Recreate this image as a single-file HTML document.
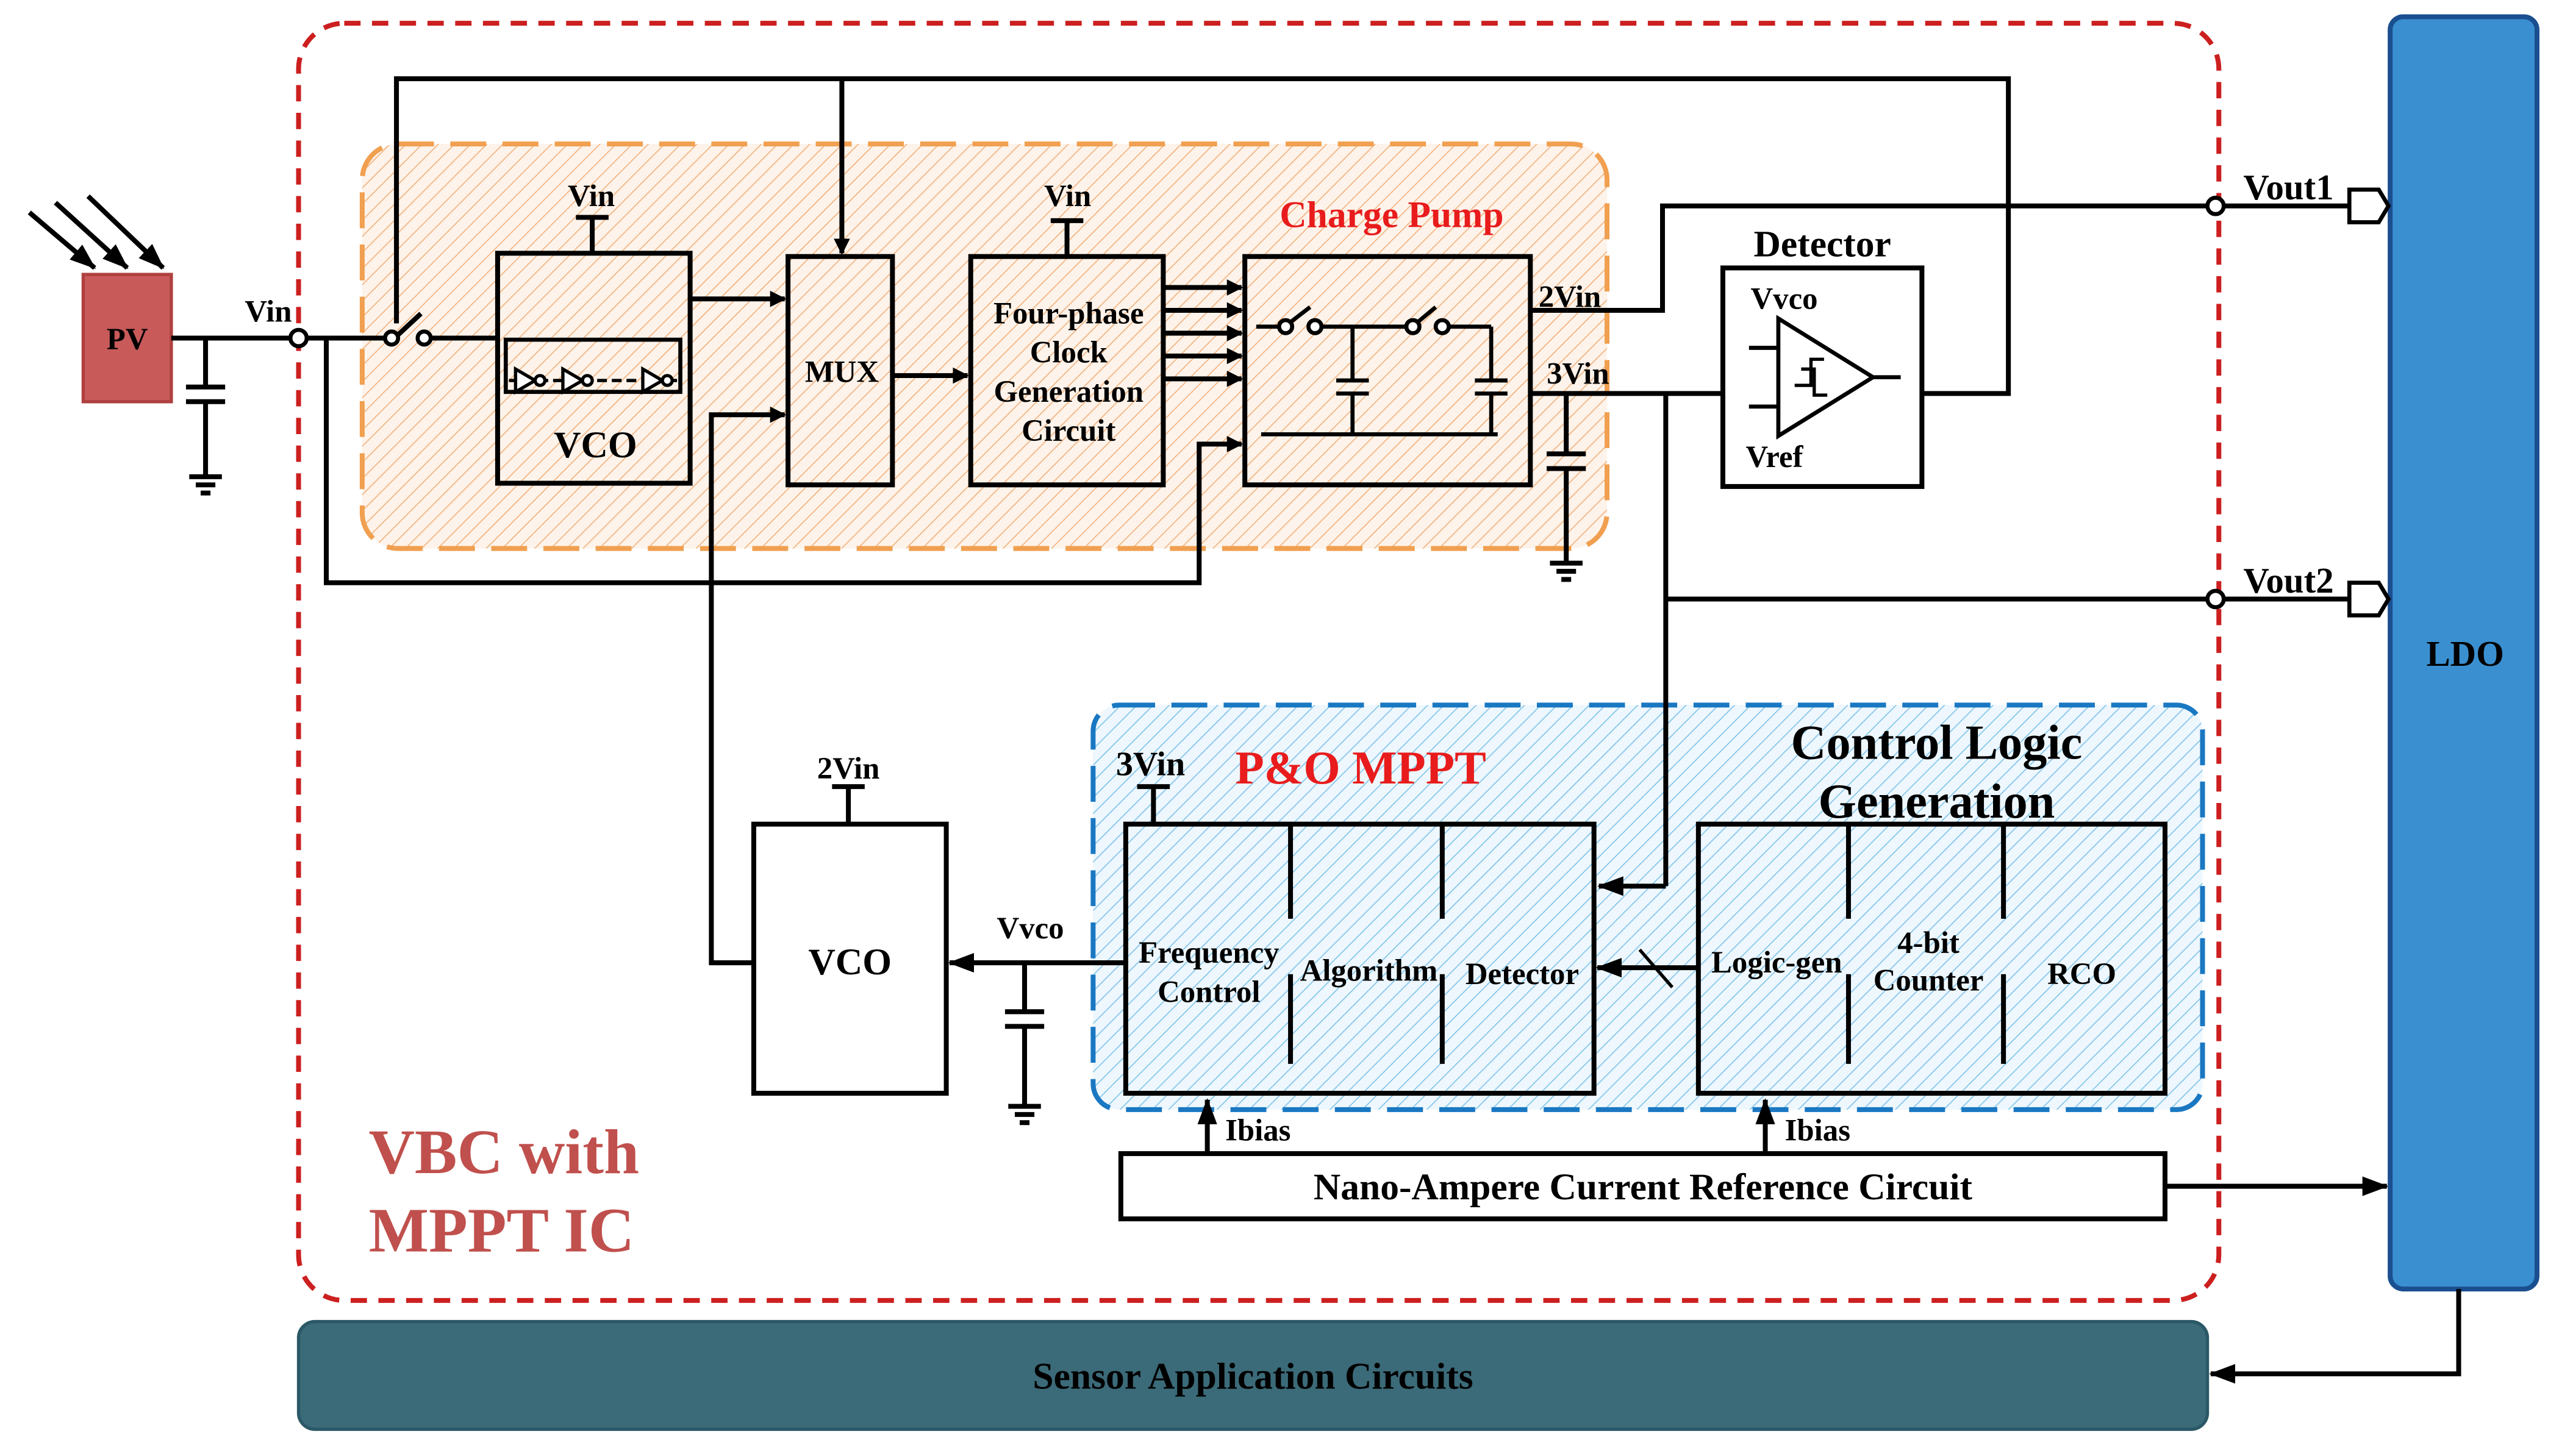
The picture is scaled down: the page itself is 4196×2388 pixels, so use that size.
<!DOCTYPE html>
<html><head><meta charset="utf-8"><style>
html,body{margin:0;padding:0;background:#fff;}
svg{display:block;}
text{font-family:"Liberation Serif",serif;font-weight:bold;}
</style></head><body>
<svg width="4196" height="2388" viewBox="0 0 1563 889" xmlns="http://www.w3.org/2000/svg">
<defs>
<pattern id="ho" patternUnits="userSpaceOnUse" width="7" height="7" patternTransform="rotate(45)"><rect width="7" height="7" fill="#fdf3ea"/><line x1="0" y1="0" x2="0" y2="7" stroke="#f2b07a" stroke-width="1.2"/></pattern>
<pattern id="hb" patternUnits="userSpaceOnUse" width="7" height="7" patternTransform="rotate(45)"><rect width="7" height="7" fill="#eef7fd"/><line x1="0" y1="0" x2="0" y2="7" stroke="#7cc3ea" stroke-width="1.2"/></pattern>
<marker id="a" markerWidth="10" markerHeight="10" refX="9" refY="5" orient="auto" markerUnits="userSpaceOnUse"><path d="M0,0 L10,5 L0,10 z" fill="#000"/></marker>
<marker id="a2" markerWidth="16" markerHeight="12" refX="15" refY="6" orient="auto" markerUnits="userSpaceOnUse"><path d="M0,0 L16,6 L0,12 z" fill="#000"/></marker>
</defs>
<rect x="0" y="0" width="1563" height="889" fill="#fff"/>
<g transform="scale(0.9965)">
<rect x="222" y="88" width="763" height="248" rx="22" fill="url(#ho)" stroke="#f0a050" stroke-width="3" stroke-dasharray="22,10"/>
<rect x="670" y="432" width="680" height="248" rx="16" fill="url(#hb)" stroke="#1a78c2" stroke-width="3" stroke-dasharray="22,10"/>
<rect x="183" y="14" width="1177" height="783" rx="28" fill="none" stroke="#cc1f1f" stroke-width="3" stroke-dasharray="10,7"/>
<rect x="1465" y="10" width="90" height="780" rx="8" fill="#3a8fd0" stroke="#1a4f90" stroke-width="3"/>
<text x="1511" y="408" font-size="22" text-anchor="middle">LDO</text>
<rect x="183" y="810" width="1170" height="66" rx="10" fill="#3b6a78" stroke="#2b5866" stroke-width="2"/>
<text x="768" y="851" font-size="23" text-anchor="middle">Sensor Application Circuits</text>
<rect x="51" y="168" width="54" height="78" fill="#c85a5a" stroke="#b04040" stroke-width="2"/>
<text x="78" y="214" font-size="19" text-anchor="middle">PV</text>
<g stroke="#000" stroke-width="3" fill="none">
<line x1="18" y1="130" x2="58" y2="164" marker-end="url(#a2)"/>
<line x1="34" y1="124" x2="78" y2="164" marker-end="url(#a2)"/>
<line x1="54" y1="120" x2="100" y2="164" marker-end="url(#a2)"/>
</g>
<g stroke="#000" stroke-width="3" fill="none">
<line x1="105" y1="207" x2="178" y2="207"/>
<line x1="188" y1="207" x2="236" y2="207"/>
<line x1="264" y1="207" x2="305" y2="207"/>
<line x1="244" y1="205" x2="258" y2="192"/>
<line x1="126" y1="207" x2="126" y2="237"/>
<line x1="114" y1="237" x2="138" y2="237"/><line x1="114" y1="246" x2="138" y2="246"/>
<line x1="126" y1="246" x2="126" y2="292"/>
<line x1="116" y1="292" x2="136" y2="292"/><line x1="120" y1="297" x2="132" y2="297"/><line x1="123" y1="302" x2="129" y2="302"/>
<rect x="305" y="155" width="118" height="141"/>
<rect x="483" y="157" width="64" height="140"/>
<rect x="595" y="157" width="118" height="140"/>
<rect x="763" y="157" width="175" height="140"/>
<rect x="1056" y="164" width="122" height="134"/>
<rect x="462" y="505" width="118" height="165"/>
<rect x="690" y="505" width="287" height="165"/>
<rect x="1041" y="505" width="286" height="165"/>
<rect x="687" y="707" width="640" height="40"/>
<line x1="363" y1="133" x2="363" y2="155"/><line x1="353" y1="133" x2="373" y2="133"/>
<line x1="654" y1="135" x2="654" y2="157"/><line x1="644" y1="135" x2="664" y2="135"/>
<line x1="520" y1="482" x2="520" y2="505"/><line x1="510" y1="482" x2="530" y2="482"/>
<line x1="707" y1="482" x2="707" y2="505"/><line x1="697" y1="482" x2="717" y2="482"/>
<rect x="310" y="208" width="107" height="32" stroke-width="2.5"/>
<line x1="423" y1="183" x2="481" y2="183" marker-end="url(#a)"/>
<line x1="547" y1="230" x2="593" y2="230" marker-end="url(#a)"/>
<line x1="713" y1="176" x2="761" y2="176" marker-end="url(#a)"/>
<line x1="713" y1="190" x2="761" y2="190" marker-end="url(#a)"/>
<line x1="713" y1="204" x2="761" y2="204" marker-end="url(#a)"/>
<line x1="713" y1="218" x2="761" y2="218" marker-end="url(#a)"/>
<line x1="713" y1="232" x2="761" y2="232" marker-end="url(#a)"/>
<polyline points="1178,241 1231,241 1231,48 243,48 243,198"/>
<line x1="516" y1="48" x2="516" y2="155" marker-end="url(#a)"/>
<polyline points="200,207 200,357 735,357 735,272 761,272" marker-end="url(#a)"/>
<polyline points="462,590 436,590 436,254 481,254" marker-end="url(#a)"/>
<polyline points="938,190 1019,190 1019,126 1353,126"/>
<line x1="1363" y1="126" x2="1440" y2="126"/>
<line x1="938" y1="241" x2="1056" y2="241"/>
<line x1="960" y1="241" x2="960" y2="278"/>
<line x1="948" y1="278" x2="972" y2="278"/><line x1="948" y1="287" x2="972" y2="287"/>
<line x1="960" y1="287" x2="960" y2="345"/>
<line x1="950" y1="345" x2="970" y2="345"/><line x1="954" y1="350" x2="966" y2="350"/><line x1="957" y1="355" x2="963" y2="355"/>
<line x1="1021" y1="241" x2="1021" y2="543"/>
<line x1="1021" y1="367" x2="1353" y2="367"/>
<line x1="1363" y1="367" x2="1440" y2="367"/>
<polyline points="1021,543 980,543" marker-end="url(#a2)"/>
<polygon points="1440,116 1458,116 1464,126 1458,136 1440,136" stroke-width="2.5"/>
<polygon points="1440,357 1458,357 1464,367 1458,377 1440,377" stroke-width="2.5"/>
<line x1="690" y1="590" x2="582" y2="590" marker-end="url(#a2)"/>
<line x1="628" y1="590" x2="628" y2="620"/>
<line x1="616" y1="620" x2="640" y2="620"/><line x1="616" y1="629" x2="640" y2="629"/>
<line x1="628" y1="629" x2="628" y2="678"/>
<line x1="618" y1="678" x2="638" y2="678"/><line x1="622" y1="683" x2="634" y2="683"/><line x1="625" y1="688" x2="631" y2="688"/>
<line x1="791" y1="505" x2="791" y2="563"/><line x1="791" y1="597" x2="791" y2="652"/>
<line x1="884" y1="505" x2="884" y2="563"/><line x1="884" y1="597" x2="884" y2="652"/>
<line x1="1133" y1="505" x2="1133" y2="563"/><line x1="1133" y1="597" x2="1133" y2="652"/>
<line x1="1228" y1="505" x2="1228" y2="563"/><line x1="1228" y1="597" x2="1228" y2="652"/>
<line x1="1041" y1="593" x2="979" y2="593" marker-end="url(#a2)"/>
<line x1="1005" y1="582" x2="1025" y2="605" stroke-width="2"/>
<line x1="740" y1="707" x2="740" y2="674" marker-end="url(#a2)"/>
<line x1="1082" y1="707" x2="1082" y2="674" marker-end="url(#a2)"/>
<line x1="1327" y1="727" x2="1463" y2="727" marker-end="url(#a2)"/>
<polyline points="1507,790 1507,842 1355,842" marker-end="url(#a2)"/>
<line x1="770" y1="200" x2="785" y2="200" stroke-width="2.5"/>
<line x1="790" y1="198" x2="803" y2="188" stroke-width="2.5"/>
<line x1="808" y1="200" x2="862" y2="200" stroke-width="2.5"/>
<line x1="868" y1="198" x2="880" y2="188" stroke-width="2.5"/>
<line x1="886" y1="200" x2="914" y2="200" stroke-width="2.5"/>
<line x1="829" y1="200" x2="829" y2="233" stroke-width="2.5"/>
<line x1="819" y1="233" x2="839" y2="233" stroke-width="2.5"/><line x1="819" y1="241" x2="839" y2="241" stroke-width="2.5"/>
<line x1="829" y1="241" x2="829" y2="266" stroke-width="2.5"/>
<line x1="914" y1="200" x2="914" y2="233" stroke-width="2.5"/>
<line x1="904" y1="233" x2="924" y2="233" stroke-width="2.5"/><line x1="904" y1="241" x2="924" y2="241" stroke-width="2.5"/>
<line x1="914" y1="241" x2="914" y2="266" stroke-width="2.5"/>
<line x1="773" y1="266" x2="918" y2="266" stroke-width="2.5"/>
<polygon points="1090,195 1090,267 1148,231" stroke-width="2.5"/>
<line x1="1148" y1="231" x2="1165" y2="231" stroke-width="2.5"/>
<line x1="1072" y1="213" x2="1090" y2="213" stroke-width="2.5"/>
<line x1="1072" y1="249" x2="1090" y2="249" stroke-width="2.5"/>
<polyline points="1100,236 1110,236 1110,220 1118,220" stroke-width="2"/>
<polyline points="1104,226 1112,226 1112,242 1120,242" stroke-width="2"/>
</g>
<g fill="#fff" stroke="#000" stroke-width="2.5">
<circle cx="183" cy="207" r="5"/><circle cx="240" cy="207" r="4"/><circle cx="260" cy="207" r="4"/>
<circle cx="788" cy="200" r="4"/><circle cx="806" cy="200" r="4"/>
<circle cx="866" cy="200" r="4"/><circle cx="884" cy="200" r="4"/>
<circle cx="1358" cy="126" r="5"/><circle cx="1358" cy="367" r="5"/>
</g>
<g fill="#fff" stroke="#000" stroke-width="2">
<line x1="312" y1="233" x2="415" y2="233" stroke-dasharray="6,3"/>
<polygon points="316,226 316,240 328,233"/><circle cx="331" cy="233" r="3"/>
<polygon points="345,226 345,240 357,233"/><circle cx="360" cy="233" r="3"/>
<polygon points="394,226 394,240 406,233"/><circle cx="409" cy="233" r="3"/>
</g>
<g font-size="19">
<text x="150" y="197">Vin</text>
<text x="348" y="126">Vin</text>
<text x="640" y="126">Vin</text>
<text x="365" y="280" font-size="23" text-anchor="middle">VCO</text>
<text x="516" y="234" text-anchor="middle">MUX</text>
<g text-anchor="middle"><text x="655" y="198">Four-phase</text><text x="655" y="222">Clock</text><text x="655" y="246">Generation</text><text x="655" y="270">Circuit</text></g>
<text x="853" y="139" font-size="23" fill="#e81c1c" text-anchor="middle">Charge Pump</text>
<text x="943" y="188">2Vin</text>
<text x="948" y="235">3Vin</text>
<text x="1117" y="157" font-size="23" text-anchor="middle">Detector</text>
<text x="1073" y="189">Vvco</text>
<text x="1070" y="286">Vref</text>
<text x="1375" y="122" font-size="22" font-weight="normal">Vout1</text>
<text x="1375" y="363" font-size="22" font-weight="normal">Vout2</text>
<text x="520" y="477" text-anchor="middle">2Vin</text>
<text x="684" y="475" font-size="21">3Vin</text>
<text x="834" y="480" font-size="29" fill="#e81c1c" text-anchor="middle">P&amp;O MPPT</text>
<text x="1187" y="465" font-size="30" text-anchor="middle">Control Logic</text>
<text x="1187" y="501" font-size="30" text-anchor="middle">Generation</text>
<text x="521" y="597" font-size="23" text-anchor="middle">VCO</text>
<text x="611" y="575">Vvco</text>
<text x="741" y="590" text-anchor="middle">Frequency</text>
<text x="741" y="614" text-anchor="middle">Control</text>
<text x="839" y="601" text-anchor="middle">Algorithm</text>
<text x="933" y="603" text-anchor="middle">Detector</text>
<text x="1089" y="596" text-anchor="middle">Logic-gen</text>
<text x="1182" y="584" text-anchor="middle">4-bit</text>
<text x="1182" y="607" text-anchor="middle">Counter</text>
<text x="1276" y="603" text-anchor="middle">RCO</text>
<text x="751" y="699">Ibias</text>
<text x="1094" y="699">Ibias</text>
<text x="1007" y="735" font-size="23" text-anchor="middle">Nano-Ampere Current Reference Circuit</text>
<text x="226" y="719" font-size="39" fill="#c0504d">VBC with</text>
<text x="226" y="767" font-size="39" fill="#c0504d">MPPT IC</text>
</g>
</g>
</svg>
</body></html>
